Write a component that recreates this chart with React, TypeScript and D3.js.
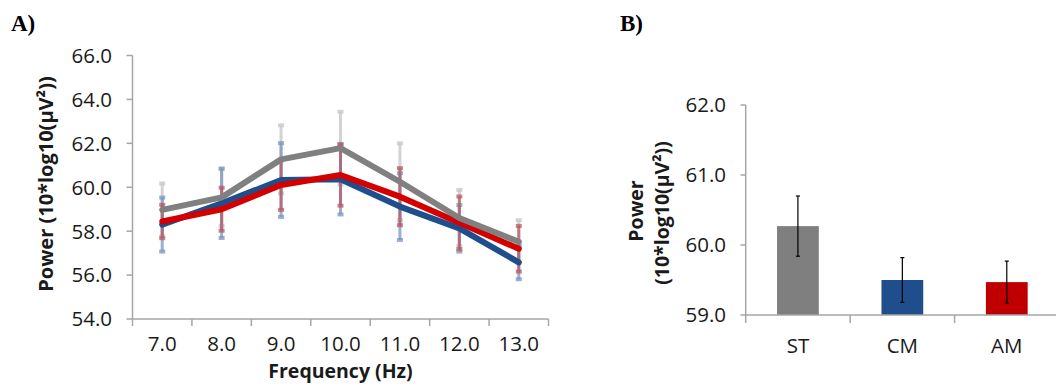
import React from "react";
import * as d3 from "d3";

// Panel A data
const freqs = ["7.0", "8.0", "9.0", "10.0", "11.0", "12.0", "13.0"];
const stValues = [58.97, 59.54, 61.27, 61.78, 60.25, 58.6, 57.52];
const stErr = [1.2, 1.3, 1.55, 1.66, 1.75, 1.28, 0.98];
const cmValues = [58.3, 59.27, 60.33, 60.36, 59.12, 58.13, 56.58];
const cmErr = [1.23, 1.58, 1.68, 1.6, 1.52, 1.06, 0.77];
const amValues = [58.44, 59.0, 60.1, 60.56, 59.57, 58.38, 57.2];
const amErr = [0.76, 0.98, 1.13, 1.4, 1.3, 1.2, 1.04];
const yTicksA = [54, 56, 58, 60, 62, 64, 66];

// Panel B data
const groups = ["ST", "CM", "AM"];
const groupValues = [60.27, 59.5, 59.47];
const groupErr = [0.43, 0.32, 0.3];
const yTicksB = [59, 60, 61, 62];

const FONT = "'Open Sans', 'Noto Sans', sans-serif";
const AXIS = "#a6a6a6";
const TXT = "#1a1a1a";

export default function App() {
  // Panel A scales
  const xA = d3.scaleBand<string>().domain(freqs).range([132.5, 548.5]);
  const yA = d3.scaleLinear().domain([54, 66]).range([319, 55.5]);
  const cx = (f: string) => (xA(f) as number) + xA.bandwidth() / 2;

  const series = [
    { name: "CM", values: cmValues, err: cmErr, color: "#1f4e8c", errColor: "rgba(120,150,190,0.75)" },
    { name: "AM", values: amValues, err: amErr, color: "#d40000", errColor: "rgba(185,90,100,0.75)" },
    { name: "ST", values: stValues, err: stErr, color: "#808080", errColor: "rgba(200,200,200,0.8)" },
  ];
  const errOrder = [series[2], series[0], series[1]];

  const line = d3
    .line<number>()
    .x((_, i) => cx(freqs[i]))
    .y((v) => yA(v));

  // Panel B scales
  const xB = d3.scaleBand<string>().domain(groups).range([745.7, 1059]).paddingInner(0.6).paddingOuter(0.3);
  const xBticks = d3.scaleBand<string>().domain(groups).range([745.7, 1059]);
  const yB = d3.scaleLinear().domain([59, 62]).range([315, 105]);
  const barColors = ["#7f7f7f", "#1f4e8c", "#c00000"];

  return (
    <svg width={1056} height={392} style={{ position: "absolute", left: 0, top: 0 }} fontFamily={FONT}>
      <rect width={1056} height={392} fill="#fff" />
      {/* Panel labels */}
      <text x={11} y={31} fontFamily="'Liberation Serif', 'Times New Roman', serif" fontWeight="bold" fontSize={23}>A)</text>
      <text x={620} y={31} fontFamily="'Liberation Serif', 'Times New Roman', serif" fontWeight="bold" fontSize={23}>B)</text>

      {/* Panel A axes */}
      <line x1={132.5} x2={132.5} y1={55.5} y2={319} stroke={AXIS} strokeWidth={1.5} />
      <line x1={132.5} x2={548.5} y1={319} y2={319} stroke={AXIS} strokeWidth={1.5} />
      {yTicksA.map((t) => (
        <g key={t}>
          <line x1={126.5} x2={132.5} y1={yA(t)} y2={yA(t)} stroke={AXIS} strokeWidth={1.5} />
          <text x={112} y={yA(t)} dy="0.36em" textAnchor="end" fontSize={20.5} fill={TXT}>
            {t.toFixed(1)}
          </text>
        </g>
      ))}
      {freqs.map((f) => (
        <g key={f}>
          <line x1={xA(f) as number} x2={xA(f) as number} y1={319} y2={326} stroke={AXIS} strokeWidth={1.5} />
          <text x={cx(f)} y={351} textAnchor="middle" fontSize={20.5} fill={TXT}>
            {f}
          </text>
        </g>
      ))}
      <line x1={548.5} x2={548.5} y1={319} y2={326} stroke={AXIS} strokeWidth={1.5} />
      <text x={cx(freqs[3])} y={378} textAnchor="middle" fontSize={19.5} fontWeight="bold" fill={TXT}>
        Frequency (Hz)
      </text>
      <text
        transform={`translate(53,184) rotate(-90)`}
        textAnchor="middle"
        fontSize={20}
        fontWeight="bold"
        fill={TXT}
      >
        Power (10*log10(μV²))
      </text>

      {/* Error bars A */}
      {errOrder.map((s) => (
        <g key={"e" + s.name}>
          {s.values.map((v, i) => {
            const x = cx(freqs[i]);
            const y1 = yA(v + s.err[i]);
            const y2 = yA(v - s.err[i]);
            return (
              <g key={i}>
                <line x1={x} x2={x} y1={y1} y2={y2} stroke={s.errColor} strokeWidth={3} />
                <rect x={x - 3} y={y1 - 2} width={6} height={4} fill={s.errColor} />
                <rect x={x - 3} y={y2 - 2} width={6} height={4} fill={s.errColor} />
              </g>
            );
          })}
        </g>
      ))}
      {/* Lines A */}
      {series.map((s) => (
        <path
          key={s.name}
          d={line(s.values) as string}
          fill="none"
          stroke={s.color}
          strokeWidth={6}
          strokeLinejoin="round"
          strokeLinecap="round"
        />
      ))}

      {/* Panel B */}
      {groups.map((g, i) => (
        <rect
          key={g}
          x={xB(g) as number}
          y={yB(groupValues[i])}
          width={xB.bandwidth()}
          height={yB(59) - yB(groupValues[i])}
          fill={barColors[i]}
        />
      ))}
      <line x1={745.7} x2={745.7} y1={105} y2={315} stroke={AXIS} strokeWidth={1.5} />
      <line x1={745.7} x2={1056} y1={315} y2={315} stroke={AXIS} strokeWidth={1.5} />
      {yTicksB.map((t) => (
        <g key={t}>
          <line x1={740.5} x2={745.7} y1={yB(t)} y2={yB(t)} stroke={AXIS} strokeWidth={1.5} />
          <text x={726} y={yB(t)} dy="0.36em" textAnchor="end" fontSize={20.5} fill={TXT}>
            {t.toFixed(1)}
          </text>
        </g>
      ))}
      {groups.map((g) => (
        <g key={"t" + g}>
          <line
            x1={xBticks(g) as number}
            x2={xBticks(g) as number}
            y1={315}
            y2={323}
            stroke={AXIS}
            strokeWidth={1.5}
          />
          <text
            x={(xBticks(g) as number) + xBticks.bandwidth() / 2}
            y={353}
            textAnchor="middle"
            fontSize={20.5}
            fill={TXT}
          >
            {g}
          </text>
        </g>
      ))}
      {groups.map((g, i) => {
        const x = (xB(g) as number) + xB.bandwidth() / 2;
        const y1 = yB(groupValues[i] + groupErr[i]);
        const y2 = yB(groupValues[i] - groupErr[i]);
        return (
          <g key={"eb" + g}>
            <line x1={x} x2={x} y1={y1} y2={y2} stroke="#000" strokeWidth={1.2} />
            <line x1={x - 2} x2={x + 2} y1={y1} y2={y1} stroke="#000" strokeWidth={1.2} />
            <line x1={x - 2} x2={x + 2} y1={y2} y2={y2} stroke="#000" strokeWidth={1.2} />
          </g>
        );
      })}
      <text transform={`translate(643,211) rotate(-90)`} textAnchor="middle" fontSize={19.5} fontWeight="bold" fill={TXT}>
        Power
      </text>
      <text transform={`translate(669,213) rotate(-90)`} textAnchor="middle" fontSize={19.5} fontWeight="bold" fill={TXT}>
        (10*log10(μV²))
      </text>
    </svg>
  );
}
